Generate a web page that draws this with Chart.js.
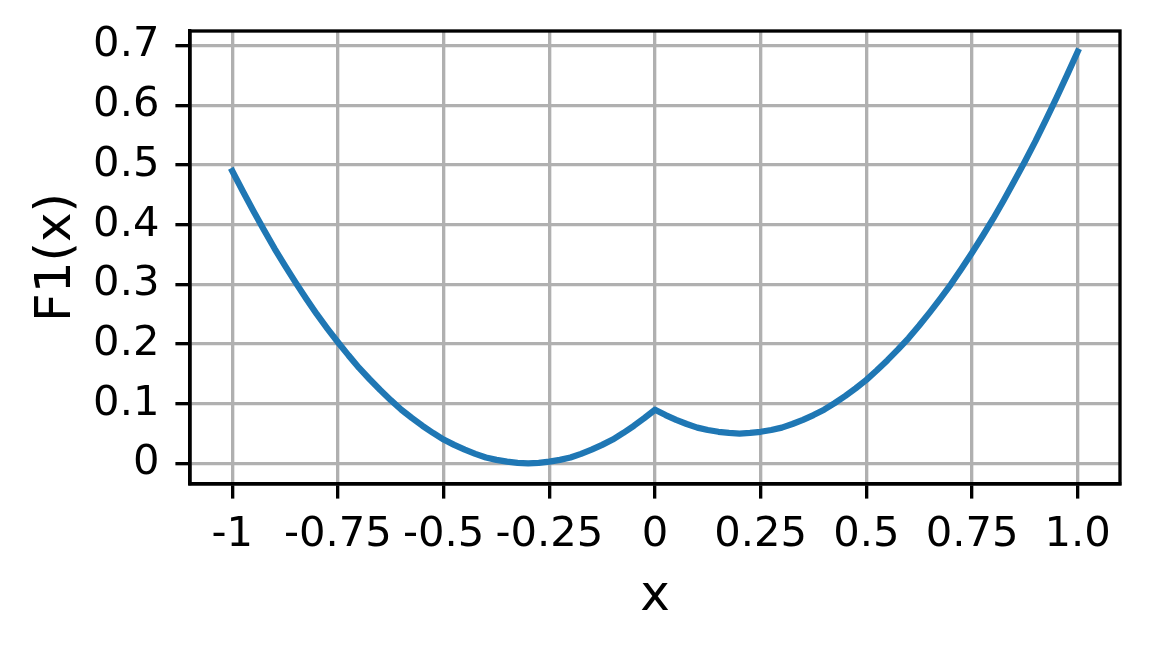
<!DOCTYPE html>
<html>
<head>
<meta charset="utf-8">
<script src="https://cdn.jsdelivr.net/npm/chart.js@4.4.0/dist/chart.umd.min.js"></script>
<style>
    html, body { margin: 0; padding: 0; background: #ffffff; }
    #grafico { display: block; }
</style>
</head>
<body>
<canvas id="grafico" width="1150" height="650"></canvas>
<script>
// Valores (x cada 0.025)
const valoresX = [
    -1.000, -0.975, -0.950, -0.925, -0.900, -0.875, -0.850, -0.825, -0.800, -0.775,
    -0.750, -0.725, -0.700, -0.675, -0.650, -0.625, -0.600, -0.575, -0.550, -0.525,
    -0.500, -0.475, -0.450, -0.425, -0.400, -0.375, -0.350, -0.325, -0.300, -0.275,
    -0.250, -0.225, -0.200, -0.175, -0.150, -0.125, -0.100, -0.075, -0.050, -0.025,
     0.000,  0.025,  0.050,  0.075,  0.100,  0.125,  0.150,  0.175,  0.200,  0.225,
     0.250,  0.275,  0.300,  0.325,  0.350,  0.375,  0.400,  0.425,  0.450,  0.475,
     0.500,  0.525,  0.550,  0.575,  0.600,  0.625,  0.650,  0.675,  0.700,  0.725,
     0.750,  0.775,  0.800,  0.825,  0.850,  0.875,  0.900,  0.925,  0.950,  0.975,
     1.000
];
const valoresF1 = [
    0.490, 0.456, 0.423, 0.391, 0.360, 0.331, 0.303, 0.276, 0.250, 0.226,
    0.203, 0.181, 0.160, 0.141, 0.123, 0.106, 0.090, 0.076, 0.063, 0.051,
    0.040, 0.031, 0.023, 0.016, 0.010, 0.006, 0.003, 0.001, 0.000, 0.001,
    0.003, 0.006, 0.010, 0.016, 0.023, 0.031, 0.040, 0.051, 0.063, 0.076,
    0.090, 0.081, 0.073, 0.066, 0.060, 0.056, 0.053, 0.051, 0.050, 0.051,
    0.053, 0.056, 0.060, 0.066, 0.073, 0.081, 0.090, 0.101, 0.113, 0.126,
    0.140, 0.156, 0.173, 0.191, 0.210, 0.231, 0.253, 0.276, 0.300, 0.326,
    0.353, 0.381, 0.410, 0.441, 0.473, 0.506, 0.540, 0.576, 0.613, 0.651,
    0.690
];

// Marcas de los ejes
const ticksX = [-1, -0.75, -0.5, -0.25, 0, 0.25, 0.5, 0.75, 1];
const etiquetasX = ['-1', '-0.75', '-0.5', '-0.25', '0', '0.25', '0.5', '0.75', '1.0'];
const ticksY = [0, 0.1, 0.2, 0.3, 0.4, 0.5, 0.6, 0.7];
const etiquetasY = ['0', '0.1', '0.2', '0.3', '0.4', '0.5', '0.6', '0.7'];

const GROSOR = 3.33; // 0.8pt a 300 dpi

Chart.defaults.font.family = '"DejaVu Sans", sans-serif';
Chart.defaults.color = '#000000';

// Dibuja el marco completo (arriba y derecha incluidos)
const marcoPlugin = {
    id: 'marco',
    afterDraw(chart) {
        const { ctx, chartArea: a } = chart;
        ctx.save();
        ctx.strokeStyle = '#000000';
        ctx.lineWidth = GROSOR;
        ctx.strokeRect(a.left, a.top, a.right - a.left, a.bottom - a.top);
        ctx.restore();
    }
};

const ctx = document.getElementById('grafico');
new Chart(ctx, {
    type: 'line',
    data: {
        datasets: [{
            label: 'F1(x)',
            data: valoresX.map((x, i) => ({ x: x, y: valoresF1[i] })),
            borderColor: '#1f77b4',
            borderWidth: 6.25,
            pointRadius: 0,
            tension: 0,
            borderJoinStyle: 'round',
            borderCapStyle: 'square',
            fill: false
        }]
    },
    options: {
        responsive: false,
        animation: false,
        devicePixelRatio: 1,
        layout: { padding: { left: 0, right: 30, top: 31, bottom: 0 } },
        plugins: {
            legend: { display: false },
            tooltip: { enabled: false }
        },
        scales: {
            x: {
                type: 'linear',
                min: -1.1,
                max: 1.1,
                afterBuildTicks: (escala) => { escala.ticks = ticksX.map(v => ({ value: v })); },
                afterFit: (escala) => {
                    escala.height = 166;
                    escala.paddingLeft = 0;
                    escala.paddingRight = 0;
                },
                ticks: {
                    autoSkip: false,
                    maxRotation: 0,
                    minRotation: 0,
                    padding: 12,
                    font: { size: 41.7 },
                    color: '#000000',
                    callback: (valor, indice) => etiquetasX[indice]
                },
                grid: {
                    color: '#b0b0b0',
                    lineWidth: GROSOR,
                    tickColor: '#000000',
                    tickWidth: GROSOR,
                    tickLength: 14.6
                },
                border: { color: '#000000', width: GROSOR },
                title: {
                    display: true,
                    text: 'x',
                    color: '#000000',
                    font: { size: 50 },
                    padding: { top: 0, bottom: 23 }
                }
            },
            y: {
                type: 'linear',
                min: -0.0345,
                max: 0.7245,
                afterBuildTicks: (escala) => { escala.ticks = ticksY.map(v => ({ value: v })); },
                afterFit: (escala) => {
                    escala.width = 190;
                    escala.paddingTop = 0;
                    escala.paddingBottom = 0;
                },
                ticks: {
                    padding: 16,
                    font: { size: 41.7 },
                    color: '#000000',
                    callback: (valor, indice) => etiquetasY[indice]
                },
                grid: {
                    color: '#b0b0b0',
                    lineWidth: GROSOR,
                    tickColor: '#000000',
                    tickWidth: GROSOR,
                    tickLength: 14.6
                },
                border: { color: '#000000', width: GROSOR },
                title: {
                    display: true,
                    text: 'F1(x)',
                    color: '#000000',
                    font: { size: 50 },
                    padding: { top: 27, bottom: 0 }
                }
            }
        }
    },
    plugins: [marcoPlugin]
});
</script>
</body>
</html>
